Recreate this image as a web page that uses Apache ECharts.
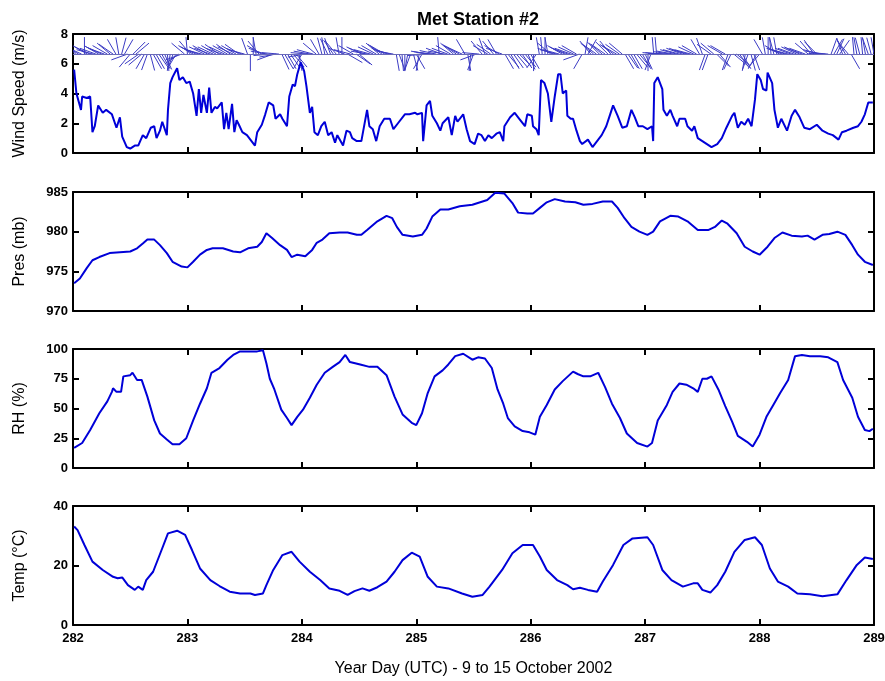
<!DOCTYPE html>
<html><head><meta charset="utf-8">
<script src="https://cdn.jsdelivr.net/npm/echarts@6/dist/echarts.min.js"></script>
<style>html,body{margin:0;padding:0;background:#fff}#c{width:885px;height:681px}</style>
</head><body><div id="c"></div>
<script>
// ---- data (year day, value) ----
const windSpeed = [[282.01,5.6],[282.03,4.0],[282.07,2.9],[282.08,3.8],[282.12,3.7],[282.15,3.8],[282.17,1.4],[282.19,1.8],[282.22,3.2],[282.26,2.7],[282.29,2.9],[282.34,2.6],[282.38,1.7],[282.41,2.4],[282.43,1.1],[282.47,0.4],[282.50,0.3],[282.54,0.5],[282.57,0.5],[282.61,1.2],[282.64,1.0],[282.68,1.7],[282.71,1.8],[282.73,1.0],[282.76,1.5],[282.78,2.1],[282.82,1.2],[282.83,2.9],[282.85,4.7],[282.87,5.1],[282.91,5.7],[282.93,4.9],[282.96,5.1],[282.99,4.7],[283.02,4.8],[283.05,4.0],[283.08,2.5],[283.10,4.3],[283.12,2.7],[283.14,3.9],[283.17,2.7],[283.19,4.4],[283.21,2.7],[283.24,3.1],[283.26,3.0],[283.30,3.4],[283.32,1.6],[283.34,2.7],[283.36,1.6],[283.39,3.3],[283.41,1.4],[283.43,2.2],[283.45,1.9],[283.48,1.4],[283.52,1.2],[283.59,0.5],[283.61,1.4],[283.65,1.9],[283.68,2.6],[283.71,3.4],[283.75,3.2],[283.77,2.3],[283.81,2.6],[283.83,2.3],[283.87,1.8],[283.89,3.8],[283.92,4.6],[283.94,4.5],[283.96,5.3],[283.99,6.1],[284.02,5.5],[284.04,4.5],[284.07,2.7],[284.09,3.1],[284.11,1.4],[284.14,1.2],[284.17,1.8],[284.20,2.1],[284.23,1.2],[284.26,1.4],[284.29,0.7],[284.31,1.2],[284.36,0.5],[284.39,1.5],[284.42,1.4],[284.44,1.0],[284.48,0.8],[284.52,0.8],[284.57,2.9],[284.59,1.8],[284.62,1.6],[284.65,0.8],[284.68,1.8],[284.72,2.3],[284.77,2.3],[284.80,1.6],[284.84,2.0],[284.90,2.6],[284.94,2.6],[284.99,2.7],[285.01,2.6],[285.05,2.7],[285.06,0.8],[285.09,3.2],[285.12,3.5],[285.14,2.5],[285.18,2.0],[285.21,1.5],[285.23,2.0],[285.28,2.4],[285.31,1.2],[285.34,2.5],[285.36,2.1],[285.41,2.6],[285.44,1.6],[285.47,0.8],[285.51,0.6],[285.54,1.3],[285.57,1.2],[285.60,0.8],[285.63,1.2],[285.66,1.0],[285.70,1.3],[285.73,1.4],[285.76,0.8],[285.77,1.8],[285.82,2.4],[285.86,2.7],[285.90,2.3],[285.95,1.8],[285.97,2.6],[286.01,2.5],[286.02,1.8],[286.05,1.6],[286.07,1.2],[286.09,4.9],[286.12,4.7],[286.15,4.0],[286.18,2.1],[286.21,3.8],[286.24,5.3],[286.26,5.3],[286.28,4.0],[286.31,4.2],[286.32,2.5],[286.35,2.3],[286.37,2.3],[286.40,1.5],[286.43,0.8],[286.45,0.6],[286.50,0.9],[286.54,0.4],[286.58,0.8],[286.62,1.2],[286.66,1.8],[286.69,2.5],[286.72,3.2],[286.76,2.5],[286.80,1.7],[286.84,1.8],[286.88,2.9],[286.91,2.4],[286.94,1.8],[286.98,1.8],[287.02,1.6],[287.06,1.8],[287.07,0.8],[287.08,4.7],[287.11,5.1],[287.15,4.3],[287.16,2.9],[287.19,2.5],[287.22,2.9],[287.24,2.5],[287.28,1.8],[287.30,2.3],[287.35,2.3],[287.37,1.8],[287.41,1.5],[287.43,1.8],[287.46,1.0],[287.50,0.8],[287.54,0.6],[287.58,0.4],[287.63,0.6],[287.67,1.0],[287.71,1.7],[287.76,2.5],[287.78,2.7],[287.81,1.7],[287.84,2.1],[287.87,1.9],[287.90,2.3],[287.93,1.8],[287.96,3.6],[287.98,5.3],[288.01,4.9],[288.03,4.3],[288.06,4.2],[288.07,5.4],[288.11,4.7],[288.13,2.9],[288.16,1.7],[288.19,2.3],[288.24,1.5],[288.28,2.5],[288.31,2.9],[288.35,2.4],[288.39,1.7],[288.44,1.6],[288.50,1.9],[288.55,1.5],[288.60,1.3],[288.64,1.2],[288.69,0.9],[288.72,1.4],[288.76,1.5],[288.82,1.7],[288.86,1.8],[288.89,2.1],[288.92,2.6],[288.95,3.4],[288.99,3.4]];

// wind stick directions: [year day, direction angle in degrees (0 = east, 90 = north)]
const windSticks = [[282.000,120],[282.025,140],[282.050,150],[282.075,155],[282.100,90],[282.125,150],[282.150,155],[282.175,165],[282.200,160],[282.225,150],[282.250,155],[282.275,160],[282.300,150],[282.325,140],[282.350,145],[282.375,120],[282.400,100],[282.425,75],[282.450,60],[282.475,200],[282.500,230],[282.525,45],[282.550,40],[282.575,215],[282.600,220],[282.625,240],[282.650,250],[282.675,285],[282.700,300],[282.725,300],[282.750,305],[282.775,300],[282.800,295],[282.825,275],[282.850,260],[282.875,250],[282.900,240],[282.925,215],[282.950,200],[282.975,140],[283.000,95],[283.025,130],[283.050,150],[283.075,155],[283.100,160],[283.125,165],[283.150,155],[283.175,150],[283.200,160],[283.225,155],[283.250,150],[283.275,145],[283.300,160],[283.325,155],[283.350,150],[283.375,145],[283.400,155],[283.425,150],[283.450,145],[283.475,160],[283.500,165],[283.525,110],[283.550,270],[283.575,90],[283.600,100],[283.625,130],[283.650,150],[283.675,160],[283.700,170],[283.725,185],[283.750,200],[283.775,190],[283.800,175],[283.825,295],[283.850,300],[283.875,300],[283.900,305],[283.925,310],[283.950,310],[283.975,280],[284.000,240],[284.025,190],[284.050,175],[284.075,170],[284.100,165],[284.125,140],[284.150,120],[284.175,105],[284.200,100],[284.225,115],[284.250,110],[284.275,125],[284.300,130],[284.325,100],[284.350,90],[284.375,160],[284.400,330],[284.425,165],[284.450,150],[284.475,325],[284.500,320],[284.525,155],[284.550,160],[284.575,170],[284.600,165],[284.625,155],[284.650,150],[284.675,140],[284.700,145],[284.725,150],[284.750,160],[284.775,165],[284.800,170],[284.825,280],[284.850,290],[284.875,275],[284.900,270],[284.925,260],[284.950,250],[284.975,285],[285.000,300],[285.025,260],[285.050,240],[285.075,185],[285.100,170],[285.125,172],[285.150,175],[285.175,168],[285.200,95],[285.225,160],[285.250,170],[285.275,160],[285.300,150],[285.325,140],[285.350,145],[285.375,150],[285.400,155],[285.425,120],[285.450,280],[285.475,265],[285.500,250],[285.525,200],[285.550,175],[285.575,130],[285.600,110],[285.625,150],[285.650,145],[285.675,130],[285.700,120],[285.725,150],[285.750,160],[285.775,300],[285.800,310],[285.825,300],[285.850,305],[285.875,310],[285.900,315],[285.925,305],[285.950,310],[285.975,295],[286.000,300],[286.025,270],[286.050,235],[286.075,100],[286.100,95],[286.125,90],[286.150,100],[286.175,140],[286.200,160],[286.225,165],[286.250,165],[286.275,150],[286.300,155],[286.325,160],[286.350,160],[286.375,155],[286.400,150],[286.425,200],[286.450,240],[286.475,80],[286.500,60],[286.525,130],[286.550,140],[286.575,145],[286.600,135],[286.625,140],[286.650,145],[286.675,135],[286.700,130],[286.725,145],[286.750,150],[286.775,145],[286.800,140],[286.825,300],[286.850,305],[286.875,300],[286.900,300],[286.925,310],[286.950,310],[286.975,300],[287.000,295],[287.025,270],[287.050,250],[287.075,95],[287.100,95],[287.125,175],[287.150,175],[287.175,178],[287.200,178],[287.225,172],[287.250,170],[287.275,165],[287.300,165],[287.325,160],[287.350,160],[287.375,165],[287.400,165],[287.425,155],[287.450,150],[287.475,120],[287.500,110],[287.525,250],[287.550,250],[287.575,145],[287.600,140],[287.625,315],[287.650,310],[287.675,150],[287.700,150],[287.725,250],[287.750,245],[287.775,320],[287.800,320],[287.825,305],[287.850,300],[287.875,260],[287.900,250],[287.925,285],[287.950,290],[287.975,240],[288.000,230],[288.025,120],[288.050,100],[288.075,90],[288.100,95],[288.125,105],[288.150,100],[288.175,150],[288.200,160],[288.225,162],[288.250,165],[288.275,160],[288.300,160],[288.325,155],[288.350,155],[288.375,160],[288.400,160],[288.425,140],[288.450,130],[288.475,125],[288.500,135],[288.525,165],[288.550,170],[288.575,178],[288.600,175],[288.625,70],[288.650,60],[288.675,65],[288.700,55],[288.725,110],[288.750,120],[288.775,130],[288.800,300],[288.825,95],[288.850,100],[288.875,105],[288.900,95],[288.925,100],[288.950,110],[288.975,105],[289.000,100]];
const stickBaseline = 6.65;

const pressure = [[282.01,973.5],[282.06,974.1],[282.12,975.4],[282.17,976.4],[282.23,976.8],[282.32,977.3],[282.41,977.4],[282.50,977.5],[282.56,977.9],[282.61,978.5],[282.65,979.0],[282.71,979.0],[282.76,978.3],[282.82,977.3],[282.87,976.2],[282.95,975.6],[283.00,975.5],[283.05,976.2],[283.11,977.1],[283.17,977.7],[283.22,977.9],[283.31,977.9],[283.40,977.5],[283.46,977.4],[283.53,977.9],[283.61,978.1],[283.65,978.7],[283.69,979.8],[283.74,979.2],[283.81,978.3],[283.87,977.7],[283.91,976.8],[283.96,977.1],[284.03,976.9],[284.09,977.7],[284.13,978.6],[284.18,979.0],[284.24,979.8],[284.33,979.9],[284.40,979.9],[284.48,979.6],[284.52,979.6],[284.57,980.2],[284.66,981.3],[284.74,982.0],[284.79,981.7],[284.83,980.6],[284.88,979.6],[284.97,979.4],[285.05,979.6],[285.09,980.4],[285.14,981.9],[285.21,982.8],[285.28,982.8],[285.38,983.2],[285.49,983.4],[285.62,984.0],[285.69,984.9],[285.77,984.8],[285.84,983.6],[285.89,982.4],[285.97,982.3],[286.02,982.3],[286.08,983.0],[286.14,983.7],[286.21,984.1],[286.30,983.8],[286.39,983.7],[286.46,983.4],[286.54,983.5],[286.63,983.8],[286.71,983.8],[286.76,983.0],[286.82,981.7],[286.88,980.6],[286.95,980.0],[287.02,979.6],[287.07,980.0],[287.13,981.3],[287.22,982.0],[287.29,981.9],[287.37,981.3],[287.46,980.2],[287.55,980.2],[287.61,980.6],[287.67,981.4],[287.72,981.0],[287.80,979.8],[287.87,978.1],[287.94,977.5],[288.00,977.1],[288.07,978.1],[288.13,979.2],[288.20,979.9],[288.28,979.5],[288.37,979.4],[288.42,979.5],[288.48,979.0],[288.55,979.6],[288.61,979.7],[288.68,980.0],[288.75,979.6],[288.81,978.3],[288.86,977.1],[288.92,976.2],[288.99,975.8]];

const humidity = [[282.01,17],[282.08,21],[282.15,32],[282.23,46],[282.30,56],[282.34,64],[282.35,67],[282.38,64],[282.42,64],[282.44,77],[282.50,78],[282.52,80],[282.56,74],[282.60,74],[282.65,60],[282.71,40],[282.76,29],[282.82,24],[282.87,20],[282.93,20],[282.99,25],[283.05,40],[283.11,54],[283.17,67],[283.21,80],[283.28,84],[283.35,91],[283.40,95],[283.46,98],[283.53,98],[283.61,98],[283.66,99],[283.69,88],[283.72,75],[283.76,66],[283.82,49],[283.87,42],[283.91,36],[283.96,43],[284.01,49],[284.07,59],[284.13,70],[284.20,80],[284.27,85],[284.33,89],[284.38,95],[284.42,89],[284.51,87],[284.59,85],[284.66,85],[284.74,78],[284.81,60],[284.88,45],[284.96,38],[285.00,36],[285.05,46],[285.10,63],[285.16,77],[285.23,82],[285.28,87],[285.34,94],[285.41,96],[285.49,91],[285.54,93],[285.60,92],[285.66,84],[285.71,66],[285.76,54],[285.80,42],[285.86,35],[285.93,31],[285.99,30],[286.04,28],[286.08,43],[286.14,53],[286.21,66],[286.28,73],[286.37,81],[286.41,79],[286.46,77],[286.52,77],[286.59,80],[286.65,68],[286.71,54],[286.78,42],[286.84,29],[286.93,21],[287.02,18],[287.06,21],[287.11,40],[287.19,53],[287.24,64],[287.30,71],[287.36,70],[287.42,67],[287.46,64],[287.50,75],[287.54,75],[287.58,77],[287.64,66],[287.70,52],[287.76,39],[287.81,27],[287.89,22],[287.94,18],[288.00,28],[288.06,43],[288.12,53],[288.18,63],[288.25,74],[288.31,94],[288.37,95],[288.44,94],[288.53,94],[288.60,93],[288.68,89],[288.73,74],[288.81,59],[288.86,43],[288.92,32],[288.96,31],[288.99,33]];

const temperature = [[282.01,33.1],[282.04,31.9],[282.10,26.9],[282.17,21.3],[282.26,18.5],[282.35,16.2],[282.39,15.7],[282.43,16.0],[282.48,13.4],[282.54,11.8],[282.57,12.9],[282.61,11.8],[282.64,15.1],[282.70,17.9],[282.78,25.8],[282.83,30.8],[282.91,31.7],[282.98,30.3],[283.04,25.2],[283.11,19.0],[283.20,15.1],[283.28,13.1],[283.37,11.2],[283.46,10.6],[283.55,10.6],[283.59,10.1],[283.66,10.6],[283.69,13.4],[283.75,18.5],[283.83,23.5],[283.91,24.6],[283.98,21.3],[284.07,17.9],[284.16,15.1],[284.24,12.3],[284.33,11.5],[284.40,10.1],[284.46,11.4],[284.53,12.3],[284.59,11.5],[284.66,12.7],[284.74,14.6],[284.81,17.9],[284.88,21.8],[284.96,24.3],[285.03,23.0],[285.10,16.2],[285.18,12.9],[285.28,12.3],[285.40,10.6],[285.49,9.5],[285.58,10.1],[285.64,12.9],[285.75,18.5],[285.84,24.1],[285.93,26.9],[286.02,26.9],[286.08,23.0],[286.14,18.5],[286.23,15.1],[286.32,13.4],[286.37,12.0],[286.43,12.5],[286.50,11.8],[286.58,11.2],[286.63,14.6],[286.72,20.2],[286.81,26.9],[286.89,29.1],[287.02,29.5],[287.07,26.9],[287.15,18.5],[287.23,15.1],[287.33,12.9],[287.42,14.0],[287.46,14.0],[287.50,11.8],[287.57,10.9],[287.63,13.4],[287.70,17.9],[287.78,24.6],[287.87,28.6],[287.96,29.5],[288.02,26.9],[288.09,19.0],[288.16,14.6],[288.25,12.9],[288.33,10.6],[288.44,10.3],[288.55,9.7],[288.68,10.3],[288.76,15.1],[288.85,20.2],[288.92,22.7],[288.99,22.2]];

const dayMin = 282, dayMax = 289;
const panelNames = ['Wind Speed (m/s)', 'Pres (mb)', 'RH (%)', 'Temp (\u00B0C)'];
const panelMin = [0, 970, 0, 0];
const panelMax = [8, 985, 100, 40];
const panelStep = [2, 5, 25, 20];
const titleText = 'Met Station #2';
const xTitle = 'Year Day (UTC) - 9 to 15 October 2002';

// ---- layout ----
const FONT = '"Liberation Sans", Arial, sans-serif';
const tops = [34, 192, 349, 506];
const H = 119;
const LINE = '#0000d8';

const grids = [], xAxes = [], yAxes = [];
tops.forEach((t, i) => {
  grids.push({left: 73, right: 11, top: t, height: H, containLabel: false, outerBoundsMode: 'none'});
  const last = i === 3;
  const axLine = {show: true, onZero: false, lineStyle: {color: '#000', width: 2}};
  const tick = {show: true, inside: true, length: 6, lineStyle: {color: '#000', width: 2}};
  xAxes.push({type: 'value', gridIndex: i, min: dayMin, max: dayMax, interval: 1, position: 'bottom',
    axisLine: axLine, axisTick: tick, splitLine: {show: false},
    axisLabel: {show: last, margin: 7, color: '#000', fontFamily: FONT, fontSize: 13, fontWeight: 'bold'},
    name: last ? xTitle : '', nameLocation: 'middle', nameGap: 36,
    nameTextStyle: {color: '#000', fontFamily: FONT, fontSize: 16}});
  xAxes.push({type: 'value', gridIndex: i, min: dayMin, max: dayMax, interval: 1, position: 'top',
    axisLine: axLine, axisTick: tick, splitLine: {show: false}, axisLabel: {show: false}});
  yAxes.push({type: 'value', gridIndex: i, min: panelMin[i], max: panelMax[i], interval: panelStep[i], position: 'left',
    axisLine: axLine, axisTick: tick, splitLine: {show: false},
    axisLabel: {margin: 5, color: '#000', fontFamily: FONT, fontSize: 13, fontWeight: 'bold'},
    name: panelNames[i], nameLocation: 'middle', nameRotate: 90, nameGap: 45,
    nameTextStyle: {color: '#000', fontFamily: FONT, fontSize: 16}});
  yAxes.push({type: 'value', gridIndex: i, min: panelMin[i], max: panelMax[i], interval: panelStep[i], position: 'right',
    axisLine: axLine, axisTick: tick, splitLine: {show: false}, axisLabel: {show: false}});
});

function lineSeries(data, idx) {
  return {type: 'line', xAxisIndex: idx * 2, yAxisIndex: idx * 2, data: data, showSymbol: false,
    symbol: 'none', lineStyle: {color: LINE, width: 2}, clip: true, z: 3};
}

const STICK_LEN = 17;
const option = {
  animation: false,
  backgroundColor: '#fff',
  title: {text: titleText, left: 473, top: 6, textAlign: 'center',
    textStyle: {fontFamily: FONT, fontSize: 18, fontWeight: 'bold', color: '#000'}},
  grid: grids, xAxis: xAxes, yAxis: yAxes,
  series: [
    lineSeries(windSpeed, 0),
    {type: 'custom', xAxisIndex: 0, yAxisIndex: 0, data: windSticks, clip: true, z: 2,
      renderItem: function (params, api) {
        const p = api.coord([api.value(0), stickBaseline]);
        const a = api.value(1) * Math.PI / 180;
        return {type: 'line', shape: {x1: p[0], y1: p[1], x2: p[0] + STICK_LEN * Math.cos(a), y2: p[1] - STICK_LEN * Math.sin(a)},
          style: {stroke: '#3b3bc4', lineWidth: 1}};
      },
      markLine: {silent: true, symbol: 'none', label: {show: false},
        lineStyle: {color: '#6a6ab8', width: 1, type: 'solid'}, data: [{yAxis: stickBaseline}]}
    },
    lineSeries(pressure, 1),
    lineSeries(humidity, 2),
    lineSeries(temperature, 3)
  ]
};
echarts.init(document.getElementById('c'), null, {renderer: 'canvas'}).setOption(option);
</script>
</body></html>
